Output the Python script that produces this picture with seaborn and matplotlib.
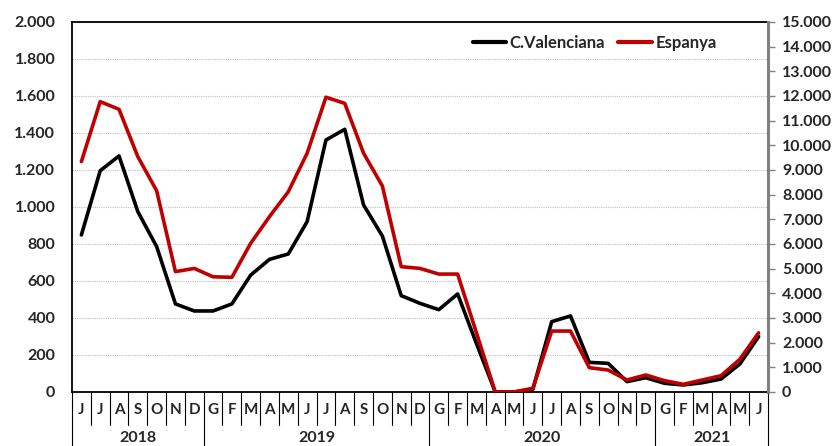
import numpy as np
import pandas as pd
import seaborn as sns
import matplotlib.pyplot as plt
from matplotlib.ticker import FuncFormatter, MultipleLocator
from matplotlib.lines import Line2D

# monthly data, Jun 2018 - Jun 2021
months = ['J', 'J', 'A', 'S', 'O', 'N', 'D',
          'G', 'F', 'M', 'A', 'M', 'J', 'J', 'A', 'S', 'O', 'N', 'D',
          'G', 'F', 'M', 'A', 'M', 'J', 'J', 'A', 'S', 'O', 'N', 'D',
          'G', 'F', 'M', 'A', 'M', 'J']
years = ['2018', '2019', '2020', '2021']
months_per_year = [7, 12, 12, 6]

valenciana = [849, 1196, 1276, 975, 786, 476, 438,
              438, 476, 632, 717, 746, 921, 1362, 1420, 1011, 843, 521, 479,
              445, 530, 262, 0, 0, 15, 380, 411, 160, 155, 56, 77,
              47, 38, 50, 70, 151, 299]
espanya = [9340, 11770, 11460, 9540, 8160, 4880, 5010,
           4670, 4650, 6030, 7110, 8120, 9680, 11950, 11700, 9680, 8350, 5080, 5010,
           4780, 4780, 2400, 0, 0, 150, 2470, 2470, 985, 890, 487, 690,
           460, 312, 487, 660, 1325, 2400]

df = pd.DataFrame({'idx': np.arange(len(months)),
                   'C.Valenciana': valenciana,
                   'Espanya': espanya})

sns.set_style("white")
plt.rcParams['font.family'] = ['Lato', 'DejaVu Sans']
plt.rcParams['font.weight'] = 'bold'

red = '#C00000'
fig = plt.figure(figsize=(8.39, 4.46), dpi=100)
ax = fig.add_axes([0.0858, 0.1211, 0.8296, 0.8296])
ax2 = ax.twinx()

sns.lineplot(data=df, x='idx', y='C.Valenciana', ax=ax, color='black', lw=2.6, zorder=3)
sns.lineplot(data=df, x='idx', y='Espanya', ax=ax2, color=red, lw=2.6, zorder=3)

n = len(months)
ax.set_xlim(-0.5, n - 0.5)
ax.set_ylim(0, 2000)
ax2.set_ylim(0, 15000)

fmt = FuncFormatter(lambda v, p: f"{int(v):,}".replace(',', '.'))
ax.yaxis.set_major_locator(MultipleLocator(200))
ax.yaxis.set_major_formatter(fmt)
ax2.yaxis.set_major_locator(MultipleLocator(1000))
ax2.yaxis.set_major_formatter(fmt)

ax.grid(axis='y', color='#BFBFBF', ls=(0, (1, 1)), lw=0.8)
ax.set_axisbelow(True)
ax.set_xlabel('')
ax.set_ylabel('')
ax2.set_ylabel('')

ax.set_xticks(range(n))
ax.set_xticklabels(months)
ax.tick_params(axis='x', length=0, pad=8, labelsize=11)
ax.tick_params(axis='y', length=0, pad=12, labelsize=11.5)
ax2.tick_params(axis='y', length=5, width=1, color='#808080', pad=5, labelsize=11.5)
for lab in ax.get_xticklabels() + ax.get_yticklabels() + ax2.get_yticklabels():
    lab.set_fontweight('bold')

for s in ['left', 'bottom', 'top']:
    ax.spines[s].set_color('black')
    ax.spines[s].set_linewidth(1.3)
    ax2.spines[s].set_visible(False)
ax.spines['right'].set_visible(False)
ax2.spines['right'].set_color('#808080')
ax2.spines['right'].set_linewidth(2.2)

# month and year separators below the axis
trans = ax.get_xaxis_transform()
year_edges = np.cumsum([0] + months_per_year) - 0.5
for b in np.arange(n + 1) - 0.5:
    if b in year_edges:
        ax.plot([b, b], [0, -0.15], transform=trans, color='black', lw=0.8, clip_on=False)
    else:
        ax.plot([b, b], [0, -0.09], transform=trans, color='black', lw=0.8, clip_on=False)
for i, y in enumerate(years):
    c = (year_edges[i] + year_edges[i + 1]) / 2
    ax.text(c, -0.125, y, transform=trans, ha='center', va='center',
            fontsize=11.5, fontweight='bold')

handles = [Line2D([], [], color='black', lw=3), Line2D([], [], color=red, lw=3)]
ax.legend(handles, ['C.Valenciana', 'Espanya'], loc='center', bbox_to_anchor=(0.751, 0.943),
          ncol=2, frameon=False, handlelength=2.0, handletextpad=0.2, columnspacing=0.8,
          prop={'weight': 'bold', 'size': 12})

fig.savefig('out.png', dpi=100)
